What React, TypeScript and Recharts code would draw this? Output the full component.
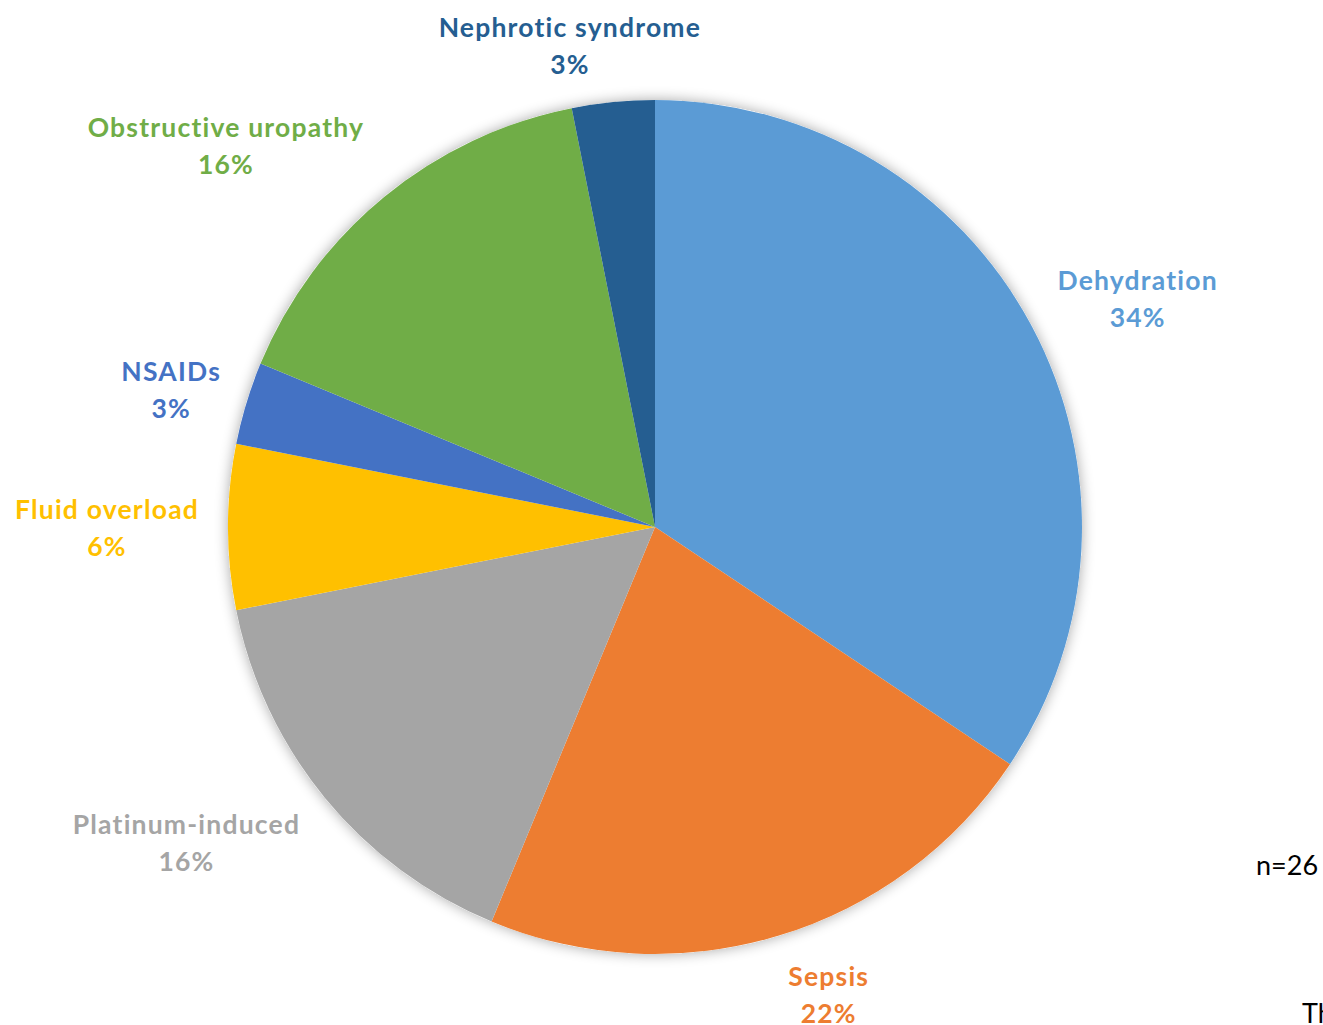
import { PieChart, Pie, Cell } from "recharts";

const CAUSES = [
  "Dehydration",
  "Sepsis",
  "Platinum-induced",
  "Fluid overload",
  "NSAIDs",
  "Obstructive uropathy",
  "Nephrotic syndrome",
];
const PATIENTS = [11, 7, 5, 2, 1, 5, 1];
const COLORS = ["#5B9BD5", "#ED7D31", "#A5A5A5", "#FFC000", "#4472C4", "#70AD47", "#255E91"];

// where each label sits: distance from centre and a small turn off the slice middle (deg, clockwise)
const LABEL_RADIUS = [534, 499, 565, 548, 503, 574, 489];
const LABEL_TURN = [2.8, -3.5, 5.4, 0, -1, -9, -4.4];

const data = CAUSES.map((name, i) => ({ name, value: PATIENTS[i] }));
const total = PATIENTS.reduce((a, b) => a + b, 0);

const RAD = Math.PI / 180;
const FONT = "Lato, 'Open Sans', sans-serif";

interface LabelProps {
  cx: number;
  cy: number;
  midAngle: number;
  index: number;
}

function SliceLabel({ cx, cy, midAngle, index }: LabelProps) {
  const a = (midAngle - LABEL_TURN[index]) * RAD;
  const r = LABEL_RADIUS[index];
  const x = cx + r * Math.cos(a);
  const y = cy - r * Math.sin(a);
  const pct = Math.round((PATIENTS[index] / total) * 100);
  const common = {
    x,
    textAnchor: "middle" as const,
    dominantBaseline: "central" as const,
    fill: COLORS[index],
    fontFamily: FONT,
    fontWeight: 700,
    fontSize: 26.5,
    letterSpacing: 1.2,
  };
  return (
    <g>
      <text {...common} y={y - 18.5}>
        {CAUSES[index]}
      </text>
      <text {...common} y={y + 18.5}>
        {pct}%
      </text>
    </g>
  );
}

export default function App() {
  return (
    <div style={{ position: "absolute", left: 0, top: 0, width: 1323, height: 1025, background: "#fff" }}>
      <PieChart width={1323} height={1025} margin={{ top: 0, right: 0, bottom: 0, left: 0 }}>
        <defs>
          <filter id="pieShadow" x="-20%" y="-20%" width="140%" height="140%">
            <feGaussianBlur in="SourceAlpha" stdDeviation="7" />
            <feComponentTransfer>
              <feFuncA type="linear" slope="0.35" />
            </feComponentTransfer>
            <feMerge>
              <feMergeNode />
              <feMergeNode in="SourceGraphic" />
            </feMerge>
          </filter>
        </defs>
        <Pie
          data={[{ name: "backdrop", value: 1 }]}
          dataKey="value"
          cx={655}
          cy={527}
          outerRadius={427}
          startAngle={90}
          endAngle={-270}
          stroke="none"
          isAnimationActive={false}
        >
          <Cell fill="#ffffff" filter="url(#pieShadow)" />
        </Pie>
        <Pie
          data={data}
          dataKey="value"
          nameKey="name"
          cx={655}
          cy={527}
          outerRadius={427}
          startAngle={90}
          endAngle={-270}
          stroke="none"
          labelLine={false}
          label={(p: any) => <SliceLabel {...p} />}
          isAnimationActive={false}
        >
          {data.map((d, i) => (
            <Cell key={d.name} fill={COLORS[i]} />
          ))}
        </Pie>
        <text x={1256} y={864} dominantBaseline="central" fontFamily={FONT} fontSize={27} fill="#000">
          n=26
        </text>
        <text x={1302} y={1012} dominantBaseline="central" fontFamily={FONT} fontSize={27} fill="#000">
          Th
        </text>
      </PieChart>
    </div>
  );
}
